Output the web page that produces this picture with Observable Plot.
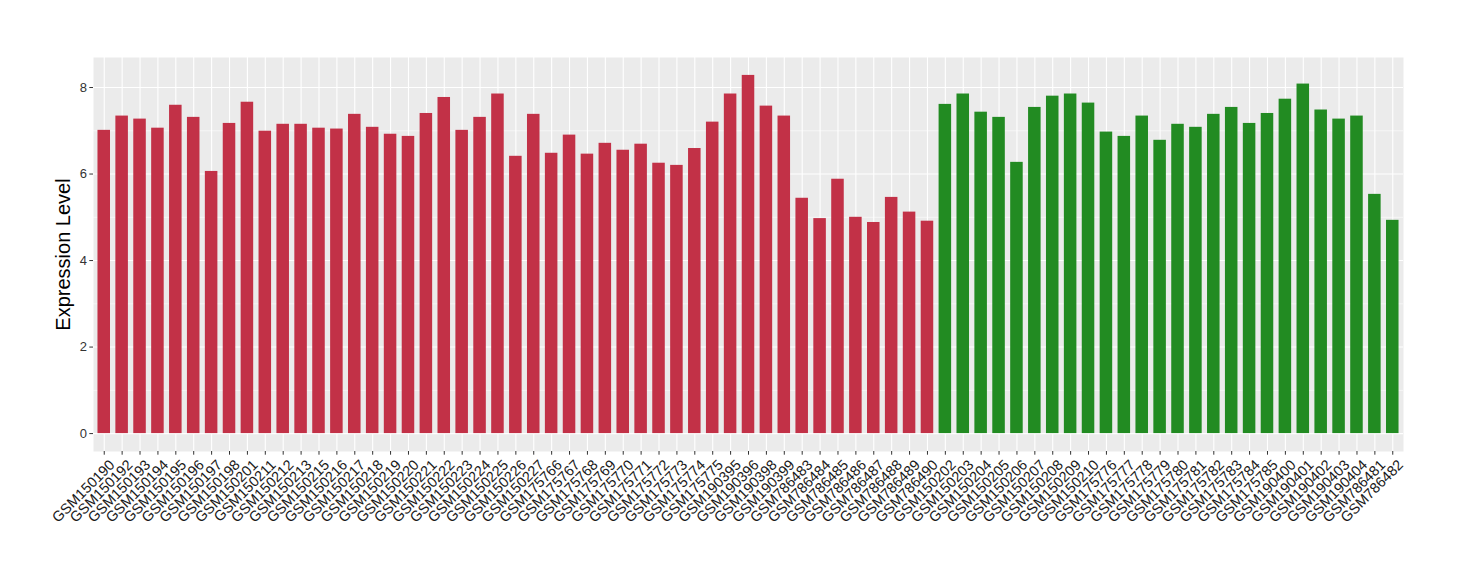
<!DOCTYPE html>
<html>
<head>
<meta charset="utf-8">
<script src="https://cdn.jsdelivr.net/npm/d3@7"></script>
<script src="https://cdn.jsdelivr.net/npm/@observablehq/plot@0.6"></script>
<style>
  html, body { margin: 0; padding: 0; background: #fff; }
  #chart { width: 1460px; height: 580px; }
</style>
</head>
<body>
<div id="chart"></div>
<script>
const samplesA = ["GSM150190","GSM150192","GSM150193","GSM150194","GSM150195","GSM150196","GSM150197","GSM150198","GSM150201","GSM150211","GSM150212","GSM150213","GSM150215","GSM150216","GSM150217","GSM150218","GSM150219","GSM150220","GSM150221","GSM150222","GSM150223","GSM150224","GSM150225","GSM150226","GSM150227","GSM175766","GSM175767","GSM175768","GSM175769","GSM175770","GSM175771","GSM175772","GSM175773","GSM175774","GSM175775","GSM190395","GSM190396","GSM190398","GSM190399","GSM786483","GSM786484","GSM786485","GSM786486","GSM786487","GSM786488","GSM786489","GSM786490"];
const valuesA = [7.01,7.34,7.27,7.06,7.59,7.31,6.06,7.17,7.66,6.99,7.15,7.15,7.06,7.04,7.38,7.08,6.92,6.87,7.40,7.77,7.01,7.31,7.85,6.41,7.38,6.48,6.90,6.46,6.71,6.55,6.69,6.25,6.20,6.59,7.20,7.85,8.28,7.57,7.34,5.44,4.97,5.88,5.00,4.88,5.46,5.12,4.91];
const samplesB = ["GSM150202","GSM150203","GSM150204","GSM150205","GSM150206","GSM150207","GSM150208","GSM150209","GSM150210","GSM175776","GSM175777","GSM175778","GSM175779","GSM175780","GSM175781","GSM175782","GSM175783","GSM175784","GSM175785","GSM190400","GSM190401","GSM190402","GSM190403","GSM190404","GSM786481","GSM786482"];
const valuesB = [7.61,7.85,7.43,7.31,6.27,7.54,7.80,7.85,7.64,6.97,6.87,7.34,6.78,7.15,7.08,7.38,7.54,7.17,7.40,7.73,8.08,7.48,7.27,7.34,5.53,4.93];
const groups = ["A","B"];
const groupColors = ["#c23147","#228b22"];
const yTicks = [0,2,4,6,8];
const yMinorTicks = [1,3,5,7];

const data = [
  ...samplesA.map((s,i) => ({sample: s, value: valuesA[i], group: "A"})),
  ...samplesB.map((s,i) => ({sample: s, value: valuesB[i], group: "B"}))
];
const order = data.map(d => d.sample);
const maxV = d3.max(data, d => d.value);
const pad = maxV * 0.05;

const chart = Plot.plot({
  width: 1460,
  height: 580,
  marginLeft: 93,
  marginRight: 57,
  marginTop: 57,
  marginBottom: 129,
  style: {fontFamily: "'Liberation Sans', Arial, sans-serif", background: "#fff"},
  x: {domain: order, paddingInner: 0.3, paddingOuter: 0.25, label: null},
  y: {domain: [-pad, maxV + pad], label: null},
  color: {domain: groups, range: groupColors},
  marks: [
    Plot.frame({fill: "#ebebeb", stroke: null}),
    Plot.ruleY(yMinorTicks, {stroke: "#fff", strokeWidth: 0.55}),
    Plot.ruleY(yTicks, {stroke: "#fff", strokeWidth: 1.1}),
    Plot.ruleX(order, {x: d => d, stroke: "#fff", strokeWidth: 1.1}),
    Plot.barY(data, {x: "sample", y: "value", fill: "group"}),
    Plot.axisY({ticks: yTicks, tickSize: 3.7, stroke: "#333", tickFormat: () => "",
      label: "Expression Level", labelAnchor: "center", labelArrow: "none", labelOffset: 38}),
    Plot.text(yTicks, {y: d => d, text: d => String(d), frameAnchor: "left", textAnchor: "end",
      dx: -6.5, fontSize: 13, fill: "#333"}),
    Plot.axisX({tickSize: 3.7, stroke: "#333", tickFormat: () => ""}),
    Plot.text(order, {x: d => d, text: d => d, frameAnchor: "bottom", rotate: -45,
      textAnchor: "end", lineAnchor: "top", dy: 7, dx: 4, fontSize: 14.5, fill: "#1a1a1a"})
  ]
});
chart.querySelectorAll("g[aria-label='y-axis label'] text").forEach(t => { t.setAttribute("font-size", "20px"); t.style.fill = "#000"; });
document.getElementById("chart").appendChild(chart);
</script>
</body>
</html>
